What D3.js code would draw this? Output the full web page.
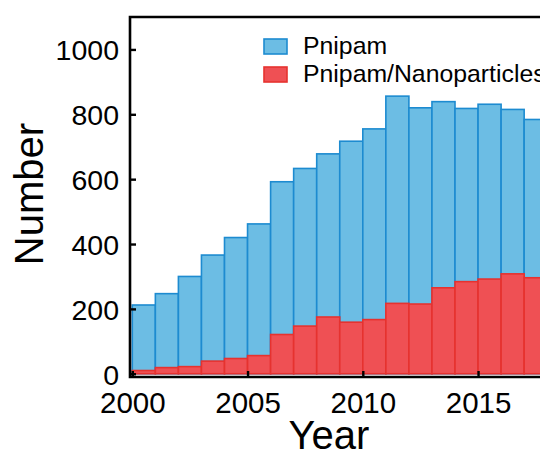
<!DOCTYPE html>
<html>
<head>
<meta charset="utf-8">
<script src="https://cdn.jsdelivr.net/npm/d3@7"></script>
<style>
  body { margin: 0; background: #fff; }
  svg { display: block; font-family: "Liberation Sans", Arial, sans-serif; }
</style>
</head>
<body>
<svg id="chart"></svg>
<script>
const years = [2000, 2001, 2002, 2003, 2004, 2005, 2006, 2007, 2008, 2009,
  2010, 2011, 2012, 2013, 2014, 2015, 2016, 2017];
const pnipam = [212, 247, 300, 366, 420, 462, 592, 633, 678, 717,
  755, 856, 820, 839, 818, 831, 815, 784];
const nanoparticles = [10, 19, 22, 39, 47, 56, 121, 147, 175, 159,
  167, 217, 215, 265, 284, 292, 308, 296];
const yTicks = [0, 200, 400, 600, 800, 1000];
const xTicks = [2000, 2005, 2010, 2015];
const seriesNames = ['Pnipam', 'Pnipam/Nanoparticles'];

const width = 540;
const height = 452;

const blue = { fill: '#6cbde4', stroke: '#1d8bd0' };
const red = { fill: '#ef5054', stroke: '#e6322f' };

const svg = d3.select('#chart')
  .attr('width', width)
  .attr('height', height);

const x = d3.scaleLinear()
  .domain([1999.9, 2020.1])
  .range([130, 130 + 20.2 * 23.05]);

const y = d3.scaleLinear()
  .domain([-10, 1100])
  .range([377, 17]);

// blue bars (all Pnipam papers)
svg.append('g')
  .selectAll('rect')
  .data(years)
  .enter()
  .append('rect')
  .attr('x', d => x(d))
  .attr('width', d => x(d + 1) - x(d))
  .attr('y', (d, i) => y(pnipam[i]))
  .attr('height', (d, i) => y(0) - y(pnipam[i]))
  .attr('fill', blue.fill)
  .attr('stroke', blue.stroke)
  .attr('stroke-width', 1.6);

// red bars drawn over them
svg.append('g')
  .selectAll('rect')
  .data(years)
  .enter()
  .append('rect')
  .attr('x', d => x(d))
  .attr('width', d => x(d + 1) - x(d))
  .attr('y', (d, i) => y(nanoparticles[i]))
  .attr('height', (d, i) => y(0) - y(nanoparticles[i]))
  .attr('fill', red.fill)
  .attr('stroke', red.stroke)
  .attr('stroke-width', 1.6);

// frame
const [x0, x1] = x.range();
const [yb, yt] = y.range();
svg.append('path')
  .attr('d', `M${x1},${yb}H${x0}V${yt}H${x1}`)
  .attr('fill', 'none')
  .attr('stroke', '#000')
  .attr('stroke-width', 2.6);

// y axis, ticks pointing inward
const yAxis = svg.append('g')
  .attr('transform', `translate(${x0},0)`)
  .call(d3.axisRight(y).tickValues(yTicks).tickSize(6).tickFormat(d3.format('d')));
yAxis.select('.domain').remove();
yAxis.selectAll('line').attr('stroke', '#000').attr('stroke-width', 2.4);
yAxis.selectAll('text')
  .attr('x', -11)
  .attr('dy', '0.36em')
  .attr('text-anchor', 'end')
  .attr('font-size', 28.5)
  .attr('fill', '#000');

// x axis, ticks pointing inward
const xAxis = svg.append('g')
  .attr('transform', `translate(0,${yb})`)
  .call(d3.axisTop(x).tickValues(xTicks).tickSize(6).tickFormat(d3.format('d')));
xAxis.select('.domain').remove();
xAxis.selectAll('line').attr('stroke', '#000').attr('stroke-width', 2.4);
xAxis.selectAll('text')
  .attr('y', 36)
  .attr('dy', 0)
  .attr('font-size', 29.5)
  .attr('fill', '#000');

// axis titles
svg.append('text')
  .attr('x', 329)
  .attr('y', 449)
  .attr('text-anchor', 'middle')
  .attr('font-size', 40)
  .text('Year');

svg.append('text')
  .attr('transform', 'translate(43,194) rotate(-90)')
  .attr('text-anchor', 'middle')
  .attr('font-size', 40)
  .text('Number');

// legend
const legend = svg.append('g')
  .selectAll('g')
  .data(seriesNames)
  .enter()
  .append('g')
  .attr('transform', (d, i) => `translate(264,${39 + i * 28})`);

legend.append('rect')
  .attr('width', 23)
  .attr('height', 15)
  .attr('fill', (d, i) => i === 0 ? blue.fill : red.fill)
  .attr('stroke', (d, i) => i === 0 ? blue.stroke : red.stroke)
  .attr('stroke-width', 1.6);

legend.append('text')
  .attr('x', 39)
  .attr('y', 14.5)
  .attr('font-size', 24.8)
  .text(d => d);
</script>
</body>
</html>
